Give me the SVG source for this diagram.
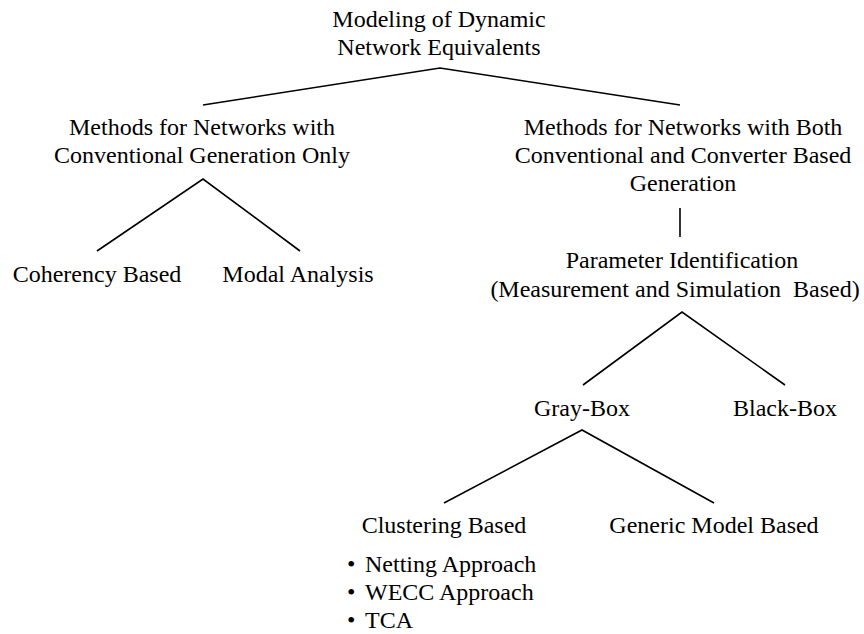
<svg xmlns="http://www.w3.org/2000/svg" width="864" height="634" viewBox="0 0 864 634">
  <style>
    text { font-family: "Liberation Serif", "Times New Roman", serif; font-size: 24px; fill: #000; }
    .c { text-anchor: middle; }
    .link { stroke: #000; stroke-width: 1.6; fill: none; stroke-linecap: butt; }
  </style>
  <rect width="864" height="634" fill="#fff"/>

  <!-- connectors -->
  <g id="connectors">
    <polyline class="link" points="203,105 440,68 680,105"/>
    <polyline class="link" points="97,251 203,179 300,251"/>
    <line class="link" x1="680" y1="208" x2="680" y2="237"/>
    <polyline class="link" points="583,385 682,312 785,385"/>
    <polyline class="link" points="444,503 582,430 714,503"/>
  </g>

  <g id="root">
    <text class="c" x="439" y="27">Modeling of Dynamic</text>
    <text class="c" x="439" y="55">Network Equivalents</text>
  </g>

  <g id="conventional">
    <text class="c" x="202" y="135">Methods for Networks with</text>
    <text class="c" x="202" y="163">Conventional Generation Only</text>
  </g>

  <g id="mixed">
    <text class="c" x="683" y="135">Methods for Networks with Both</text>
    <text class="c" x="683" y="163">Conventional and Converter Based</text>
    <text class="c" x="683" y="191">Generation</text>
  </g>

  <g id="coherency">
    <text class="c" x="97" y="282">Coherency Based</text>
  </g>

  <g id="modal">
    <text class="c" x="298" y="282">Modal Analysis</text>
  </g>

  <g id="parameter-id">
    <text class="c" x="682" y="268">Parameter Identification</text>
    <text class="c" x="675" y="297" xml:space="preserve">(Measurement and Simulation  Based)</text>
  </g>

  <g id="gray-box">
    <text class="c" x="582" y="416">Gray-Box</text>
  </g>

  <g id="black-box">
    <text class="c" x="785" y="416">Black-Box</text>
  </g>

  <g id="clustering">
    <text class="c" x="444" y="533">Clustering Based</text>
    <text x="347" y="572">•</text>
    <text x="365" y="572">Netting Approach</text>
    <text x="347" y="600">•</text>
    <text x="365" y="600">WECC Approach</text>
    <text x="347" y="628">•</text>
    <text x="365" y="628">TCA</text>
  </g>

  <g id="generic">
    <text class="c" x="714" y="533">Generic Model Based</text>
  </g>
</svg>
